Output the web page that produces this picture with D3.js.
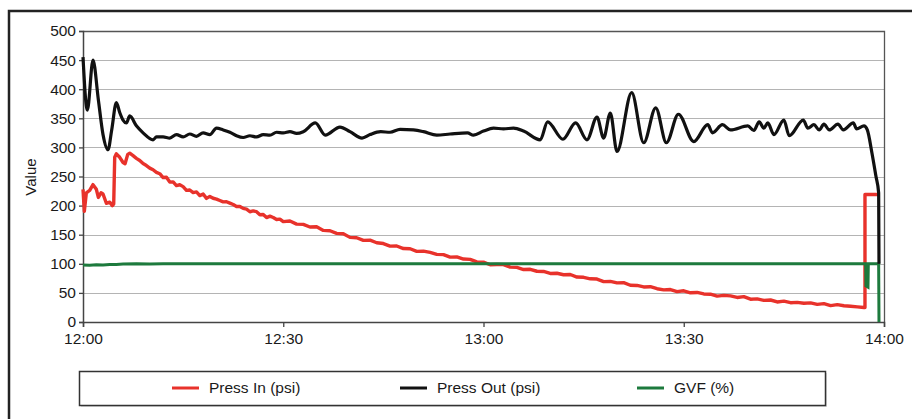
<!DOCTYPE html>
<html>
<head>
<meta charset="utf-8">
<script src="https://cdn.jsdelivr.net/npm/d3@7"></script>
<style>
  html, body { margin: 0; padding: 0; background: #fff; }
  svg { display: block; font-family: "Liberation Sans", Arial, Helvetica, sans-serif; }
</style>
</head>
<body>
<svg id="chart" width="912" height="419"></svg>
<script>
// ---- Data (minutes after 12:00, value) ----
const yTicks = [0, 50, 100, 150, 200, 250, 300, 350, 400, 450, 500];
const xTickLabels = ["12:00", "12:30", "13:00", "13:30", "14:00"];
const seriesNames = ["Press In (psi)", "Press Out (psi)", "GVF (%)"];

const pressIn = [
  [0,228],[0.2,190],[0.5,222],[1.0,226],[1.5,236],[2.0,228],[2.3,214],[2.7,222],[3.0,220],[3.5,204],
  [4.0,206],[4.4,200],[4.6,203],[4.75,283],[5.0,289],[5.5,283],[6.0,274],[6.3,272],[6.7,288],[7.0,290],
  [7.5,285],[8,282],[8.5,276],[9,273],[9.5,268],[10,266],[10.5,260],[11,258],[11.5,254],[12,249],[12.5,247],[13,242],
  [13.5,240],[14,236],[14.5,235],[15,231],[15.5,227],[16,226],[16.5,224],[17,222],[17.5,218],[18,219],[18.5,214],[19,215],
  [19.5,211],[20,212],[20.5,208],[21,208],[21.5,205],[22,205],[22.5,201],[23,200],[23.5,197],[24,196],[24.5,193],[25,191],
  [25.5,190],[26,188],[26.5,185],[27,184],[27.5,181],[28,181],[28.5,178],[29,177],[29.5,176],[30,174],
  [31,172],[32,169],[33,167],[34,164],[35,162],[36,159],[37,156],[38,153],[39,150],[40,147],
  [41,144],[42,141],[43,139],[44,137],[45,134],[46,132],[47,129],[48,127],[49,125],[50,123],
  [51,121],[52,118],[53,117],[54,115],[55,113],[56,111],[57,109],[58,106],[59,104],[60,102],
  [61,100],[62,98],[63,97],[64,95],[65,93],[66,91],[67,89],[68,88],[69,86],[70,85],
  [71,83],[72,82],[73,80],[74,78],[75,76],[76,75],[77,73],[78,71],[79,69],[80,68],
  [81,66],[82,64],[83,62],[84,61],[85,59],[86,58],[87,56],[88,55],[89,53],[90,52],
  [91,51],[92,50],[93,49],[94,47],[95,46],[96,45],[97,44],[98,43],[99,42],[100,40],
  [101,39],[102,38],[103,37],[104,36],[105,35],[106,34],[107,33],[108,33],[109,32],[110,31],
  [111,30],[112,29],[113,29],[114,28],[115,27],[116,26],[117,25],[117.15,25],[117.15,219],[119.2,219]
];

const pressInJitter = [
  0,0,0,0,0,0,0,0,0,0, 0,0,0,0,0,0,0,0,0,0,
  1,-1,2,-1,1,-2,2,-1,1,-1,2,-2,
  1,-2,1,2,-1,1,-2,2,-1,1,
  -2,1,2,-1,1,-2,2,-1,1,-2,
  2,-1,1,-2,1,2,-1,1,-2,1,
  2,-1,1,-2,2,-1,1,-1,2,-2,
  1,-1,2,-2,1,-1,2,-1,1,-2,
  2,-1,1,-2,1,2,-1,1,-2,1,
  -1,2,-1,1,-2,1,2,-1,1,-1,
  2,-1,1,-2,1,-1,2,-1,1,-1,
  1,-2,1,-1,2,-1,1,-1,2,-1,
  -1,1,-1,2,-1,1,-1,1,-2,1,
  1,-1,2,-1,1,-1,1,-2,1,-1,
  1,-1,1,-1,2,-1,1,0,0,0
];

const pressOut = [
  [0,455],[0.65,364],[1.5,450],[2.3,382],[3.0,322],[3.75,296],[4.3,330],[5.0,377],[5.5,360],[6.0,347],
  [6.5,342],[7.0,354],[8.0,337],[9.0,325],[10.5,313],[11,318],[12,318],[13,316],[14,322],[15,318],
  [16,323],[17,319],[18,325],[19,322],[20,333],[21,330],[22,326],[23,320],[24,317],[25,320],
  [26,318],[27,322],[28,321],[29,326],[30,325],[31,327],[32,324],[33,327],[34.8,342],[36.3,321],
  [38.5,335],[40,327],[41.8,316],[43,322],[44.6,327],[46,326],[47.5,331],[49.5,330],[51,327],[53,321],
  [55,323],[57.6,325],[58.5,321],[60,328],[61.5,333],[63,332],[64.5,333],[66,328],[68.5,313],[69.6,344],
  [71.9,314],[73.8,342],[75.5,313],[77,352],[78,316],[79,359],[80,293],[82.2,394],[84,308],[85.8,368],
  [87.4,308],[89.2,357],[91.5,310],[93.6,339],[94.3,325],[95.8,339],[97,330],[99.6,337],[100.5,329],[101.3,344],
  [102,333],[102.6,342],[103.5,322],[105,347],[105.8,320],[107.9,347],[108.6,333],[109.5,339],[110.3,330],[111,340],
  [111.8,330],[113.1,340],[113.9,330],[115.4,342],[115.9,332],[117,337],[117.5,330],[118.2,290],[118.8,250],[119.2,222],
  [119.25,100]
];

const gvf = [
  [0,98],[1,97.5],[2,98.5],[3,98],[4,99],[5,99],[6,99.5],[8,100],[10,99.5],[12,100],[15,100],
  [117.25,100],[117.3,62],[117.6,60],[117.65,100],[119.2,100],[119.25,0]
];

const colors = ["#e8322b", "#111111", "#1d7a3d"];

// ---- Layout ----
const svg = d3.select("#chart");
const margin = { left: 83, top: 31, right: 884, bottom: 322 };
const t0 = new Date(2000, 0, 1, 12, 0);
const t1 = new Date(2000, 0, 1, 14, 0);
const toDate = m => new Date(t0.getTime() + m * 60000);

const x = d3.scaleTime().domain([t0, t1]).range([margin.left, margin.right]);
const y = d3.scaleLinear().domain([0, 500]).range([margin.bottom, margin.top]);

// outer frame
svg.append("rect").attr("x", 9).attr("y", 11).attr("width", 1000).attr("height", 1000)
  .attr("fill", "none").attr("stroke", "#222").attr("stroke-width", 2.5);

// gridlines
svg.append("g").selectAll("line").data(yTicks.filter(v => v > 0 && v < 500)).join("line")
  .attr("x1", margin.left).attr("x2", margin.right)
  .attr("y1", d => Math.round(y(d)) + 0.5).attr("y2", d => Math.round(y(d)) + 0.5)
  .attr("stroke", "#b4b4b4").attr("stroke-width", 1.2);

// plot border top/right
svg.append("path")
  .attr("d", `M${margin.left},${margin.top + 0.5}H${margin.right + 0.5}V${margin.bottom}`)
  .attr("fill", "none").attr("stroke", "#555").attr("stroke-width", 1.3);

// axes
const xAxis = d3.axisBottom(x)
  .tickValues(xTickLabels.map((s, i) => toDate(i * 30)))
  .tickFormat((d, i) => xTickLabels[i])
  .tickSizeOuter(0).tickSize(5).tickPadding(6);
const gx = svg.append("g").attr("transform", `translate(0,${margin.bottom})`).call(xAxis);
gx.select(".domain").attr("stroke", "#444").attr("stroke-width", 1.5);
gx.selectAll(".tick line").attr("stroke", "#444").attr("stroke-width", 1.3);
gx.selectAll(".tick text").attr("font-size", 15.5).attr("fill", "#1a1a1a")
  .attr("font-family", "Liberation Sans, Arial, sans-serif");

const yAxis = d3.axisLeft(y).tickValues(yTicks).tickSizeOuter(0).tickSize(4).tickPadding(3);
const gy = svg.append("g").attr("transform", `translate(${margin.left},0)`).call(yAxis);
gy.select(".domain").attr("stroke", "#444").attr("stroke-width", 1.5);
gy.selectAll(".tick line").attr("stroke", "#444").attr("stroke-width", 1.3);
gy.selectAll(".tick text").attr("font-size", 15.5).attr("fill", "#1a1a1a")
  .attr("font-family", "Liberation Sans, Arial, sans-serif");

// y label
svg.append("text").attr("transform", "translate(36,177) rotate(-90)")
  .attr("text-anchor", "middle").attr("font-size", 15).attr("fill", "#1a1a1a").text("Value");

// lines
const line = d3.line().x(d => x(toDate(d[0]))).y(d => y(d[1]));
const smoothLine = d3.line().x(d => x(toDate(d[0]))).y(d => y(d[1])).curve(d3.curveMonotoneX);
const pressInJ = pressIn.map((d, i) => [d[0], d[1] + (pressInJitter[i] || 0) * 0.8]);

const gLines = svg.append("g");
gLines.append("path").datum(pressInJ).attr("d", line)
  .attr("fill", "none").attr("stroke", colors[0]).attr("stroke-width", 3.4).attr("stroke-linejoin", "round");
gLines.append("path").datum(gvf).attr("d", line)
  .attr("fill", "none").attr("stroke", colors[2]).attr("stroke-width", 3).attr("stroke-linejoin", "miter");
gLines.append("path").datum(pressOut).attr("d", smoothLine)
  .attr("fill", "none").attr("stroke", colors[1]).attr("stroke-width", 3.2).attr("stroke-linejoin", "round");

// legend
const lg = svg.append("g");
lg.append("rect").attr("x", 81).attr("y", 373).attr("width", 746).attr("height", 34)
  .attr("fill", "#ddd");
lg.append("rect").attr("x", 79.5).attr("y", 371.5).attr("width", 746).attr("height", 34)
  .attr("fill", "#fff").attr("stroke", "#333").attr("stroke-width", 1.5);
const legendX = [172, 400, 637];
seriesNames.forEach((name, i) => {
  lg.append("line").attr("x1", legendX[i]).attr("x2", legendX[i] + 27)
    .attr("y1", 388).attr("y2", 388).attr("stroke", colors[i]).attr("stroke-width", 3);
  lg.append("text").attr("x", legendX[i] + 37).attr("y", 388).attr("dy", "0.35em")
    .attr("font-size", 15.5).attr("fill", "#1a1a1a").text(name);
});
</script>
</body>
</html>
